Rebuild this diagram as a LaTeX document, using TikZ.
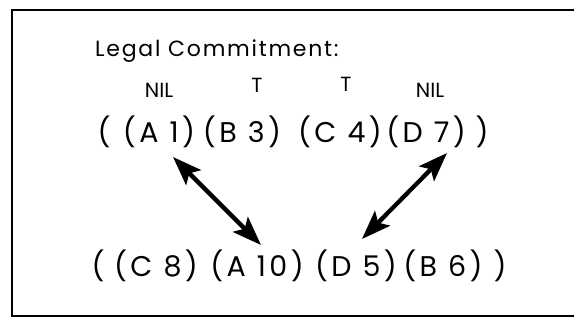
\documentclass[tikz,border=0pt]{standalone}
\usepackage{fontspec}
\setmainfont{Poppins}
\usetikzlibrary{arrows.meta,calc}
\begin{document}
\begin{tikzpicture}[x=1pt,y=-1pt,
  rowtxt/.style={anchor=base, inner sep=0pt, font=\fontsize{28.5}{30}\selectfont\addfontfeature{LetterSpace=12}},
  labtxt/.style={anchor=base, inner sep=0pt, font=\fontsize{20.5}{22}\selectfont},
  titletxt/.style={anchor=base west, inner sep=0pt, font=\fontsize{22}{24}\selectfont\addfontfeature{LetterSpace=8}},
  dbl/.style={line width=4.3pt, {Stealth[length=29pt,width=21pt,inset=6pt]}-{Stealth[length=29pt,width=21pt,inset=6pt]}},
  frame/.style={line width=2.5pt}]
\useasboundingbox (0,0) rectangle (576,323);
\draw[frame] (574,10) -- (12,10) -- (12,316) -- (574,316);
\node[titletxt] (title) at (95,57) {Legal Commitment:};
% labels
\node[labtxt] (l1) at (159,98) {NIL};
\node[labtxt] (l2) at (257,93) {T};
\node[labtxt] (l3) at (346,92) {T};
\node[labtxt] (l4) at (430,98) {NIL};
% row 1
\node[rowtxt] (o1) at (104,143) {(};
\node[rowtxt] (A1) at (159,143) {(A 1)};
\node[rowtxt] (B3) at (242,143) {(B 3)};
\node[rowtxt] (C4) at (340,143) {(C 4)};
\node[rowtxt] (D7) at (426,143) {(D 7)};
\node[rowtxt] (c1) at (482,143) {)};
% row 2
\node[rowtxt] (o2) at (98,277) {(};
\node[rowtxt] (C8) at (156,277) {(C 8)};
\node[rowtxt] (A10) at (257,277) {(A 10)};
\node[rowtxt] (D5) at (356,277) {(D 5)};
\node[rowtxt] (B6) at (443,277) {(B 6)};
\node[rowtxt] (c2) at (500,277) {)};
% arrows
\draw[dbl] ($(A1.base)+(14,14)$) -- ($(A10.base)+(4,-32)$);
\draw[dbl] ($(D7.base)+(21,10)$) -- ($(D5.base)+(6,-38)$);
\end{tikzpicture}
\end{document}
